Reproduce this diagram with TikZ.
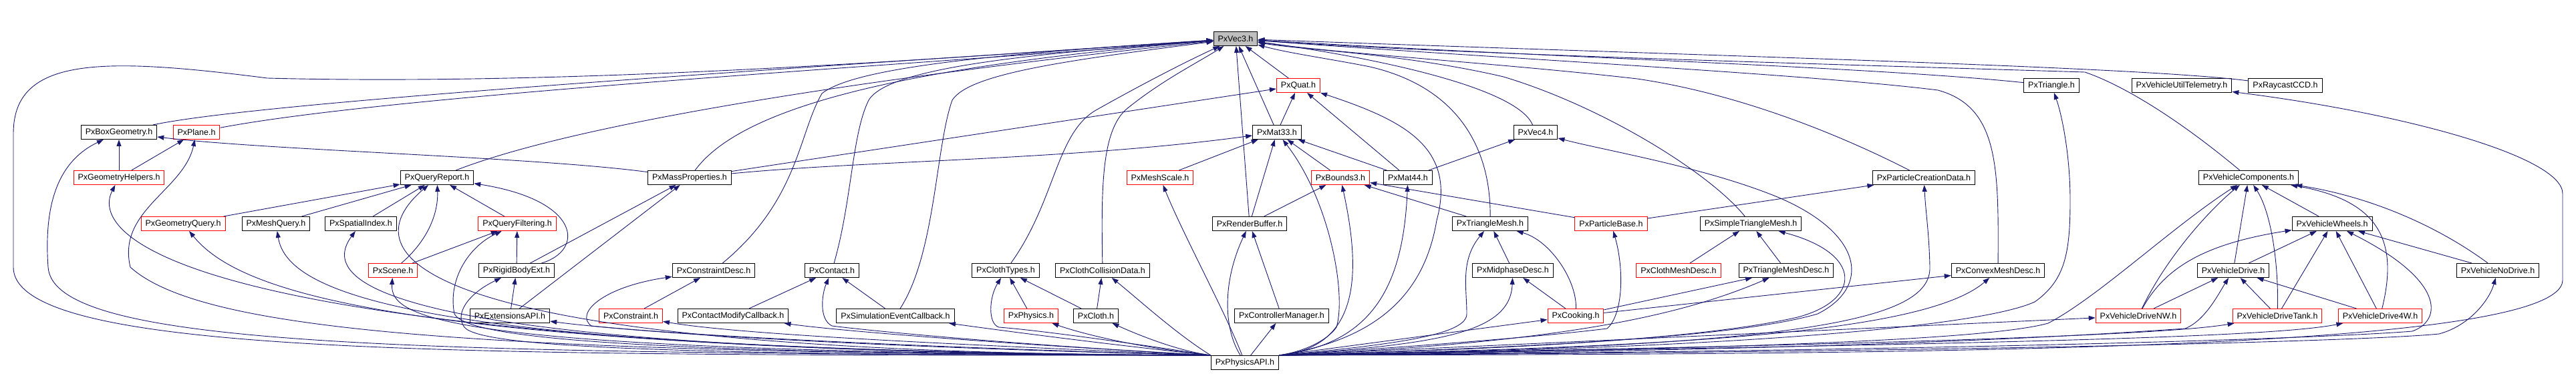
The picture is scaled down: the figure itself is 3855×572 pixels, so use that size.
\documentclass[tikz,border=0pt]{standalone}
\usepackage{fontspec}
\setmainfont{Liberation Sans}
\usetikzlibrary{arrows.meta}
\definecolor{edgeblue}{RGB}{25,25,112}
\definecolor{hdrred}{RGB}{255,0,0}
\definecolor{focusgray}{RGB}{191,191,191}
\tikzset{
  filebox/.style={rectangle,draw=black,line width=1pt,inner xsep=6.5pt,inner ysep=0pt,minimum height=21pt,font=\fontsize{12.5}{14}\selectfont},
  redbox/.style={filebox,draw=hdrred},
  focusbox/.style={filebox,fill=focusgray},
  inc/.style={-{Triangle[length=10pt,width=7pt]},color=edgeblue,line width=0.9pt}
}
\begin{document}
\begin{tikzpicture}[x=1pt,y=-1pt]
  \useasboundingbox (0,0) rectangle (3855,572);
  % headers, row by row
  \node[focusbox] (vec3) at (1849,58) {PxVec3.h};
  \node[redbox] (quat) at (1943,128) {PxQuat.h};
  \node[filebox] (triangle) at (3070,128) {PxTriangle.h};
  \node[filebox] (telemetry) at (3265,128) {PxVehicleUtilTelemetry.h};
  \node[filebox] (raycast) at (3420,128) {PxRaycastCCD.h};
  \node[filebox] (boxgeom) at (178,198) {PxBoxGeometry.h};
  \node[redbox] (plane) at (294,198) {PxPlane.h};
  \node[filebox] (mat33) at (1911,198) {PxMat33.h};
  \node[filebox] (vec4) at (2298,198) {PxVec4.h};
  \node[redbox] (geomhelp) at (178,266) {PxGeometryHelpers.h};
  \node[filebox] (queryrep) at (654,266) {PxQueryReport.h};
  \node[filebox] (massprop) at (1032,266) {PxMassProperties.h};
  \node[redbox] (meshscale) at (1736,266) {PxMeshScale.h};
  \node[redbox] (bounds3) at (2006,266) {PxBounds3.h};
  \node[filebox] (mat44) at (2107,266) {PxMat44.h};
  \node[filebox] (partcreate) at (2879,266) {PxParticleCreationData.h};
  \node[filebox] (vehcomp) at (3365,266) {PxVehicleComponents.h};
  \node[redbox] (geomquery) at (274,335) {PxGeometryQuery.h};
  \node[filebox] (meshquery) at (413,335) {PxMeshQuery.h};
  \node[filebox] (spatial) at (540,335) {PxSpatialIndex.h};
  \node[redbox] (queryfilt) at (774,335) {PxQueryFiltering.h};
  \node[filebox] (renderbuf) at (1870,335) {PxRenderBuffer.h};
  \node[filebox] (trimesh) at (2230,335) {PxTriangleMesh.h};
  \node[redbox] (partbase) at (2411,335) {PxParticleBase.h};
  \node[filebox] (simpletri) at (2620,335) {PxSimpleTriangleMesh.h};
  \node[filebox] (vehwheels) at (3490,335) {PxVehicleWheels.h};
  \node[redbox] (scene) at (588,405) {PxScene.h};
  \node[filebox] (rigidbody) at (773,405) {PxRigidBodyExt.h};
  \node[filebox] (constrdesc) at (1068,405) {PxConstraintDesc.h};
  \node[filebox] (contact) at (1245,405) {PxContact.h};
  \node[filebox] (clothtypes) at (1505,405) {PxClothTypes.h};
  \node[filebox] (clothcoll) at (1650,405) {PxClothCollisionData.h};
  \node[filebox] (midphase) at (2264,405) {PxMidphaseDesc.h};
  \node[redbox] (clothmesh) at (2512,405) {PxClothMeshDesc.h};
  \node[filebox] (trimeshdesc) at (2673,405) {PxTriangleMeshDesc.h};
  \node[filebox] (convexdesc) at (2990,405) {PxConvexMeshDesc.h};
  \node[filebox] (vehdrive) at (3342,405) {PxVehicleDrive.h};
  \node[filebox] (vehnodrive) at (3738,405) {PxVehicleNoDrive.h};
  \node[filebox] (extapi) at (763,473) {PxExtensionsAPI.h};
  \node[redbox] (constraint) at (944,473) {PxConstraint.h};
  \node[filebox] (contactmod) at (1097,473) {PxContactModifyCallback.h};
  \node[filebox] (simcb) at (1340,473) {PxSimulationEventCallback.h};
  \node[redbox] (physics) at (1543,473) {PxPhysics.h};
  \node[filebox] (cloth) at (1640,473) {PxCloth.h};
  \node[filebox] (ctrlmgr) at (1918,473) {PxControllerManager.h};
  \node[redbox] (cooking) at (2358,473) {PxCooking.h};
  \node[redbox] (drivenw) at (3200,473) {PxVehicleDriveNW.h};
  \node[redbox] (drivetank) at (3408,473) {PxVehicleDriveTank.h};
  \node[redbox] (drive4w) at (3562,473) {PxVehicleDrive4W.h};
  \node[filebox] (api) at (1863,543) {PxPhysicsAPI.h};

  % short includes
  \foreach \s/\t in {geomhelp/boxgeom,geomhelp/plane,geomquery/queryrep,meshquery/queryrep,
    spatial/queryrep,scene/queryfilt,queryfilt/queryrep,rigidbody/queryfilt,rigidbody/massprop,
    extapi/rigidbody,extapi/massprop,massprop/quat,constraint/constrdesc,contactmod/contact,
    simcb/contact,physics/clothtypes,cloth/clothtypes,cloth/clothcoll,meshscale/mat33,
    renderbuf/vec3,renderbuf/mat33,renderbuf/bounds3,ctrlmgr/renderbuf,mat33/vec3,mat33/quat,
    quat/vec3,bounds3/mat33,mat44/mat33,mat44/quat,mat44/vec4,trimesh/bounds3,partbase/bounds3,
    partbase/partcreate,midphase/trimesh,cooking/midphase,cooking/trimeshdesc,cooking/convexdesc,
    clothmesh/simpletri,trimeshdesc/simpletri,drivenw/vehdrive,vehdrive/vehcomp,vehdrive/vehwheels,
    drivetank/vehwheels,drivetank/vehdrive,drive4w/vehwheels,drive4w/vehdrive,vehwheels/vehcomp,
    vehnodrive/vehwheels,api/ctrlmgr}
    \draw[inc] (\s) -- (\t);
  \draw[inc] (massprop) .. controls (800,235) and (400,225) .. (boxgeom);
  \draw[inc] (massprop) .. controls (1300,240) and (1600,240) .. (mat33);
  \draw[inc] (rigidbody) .. controls (875,375) and (870,300) .. (queryrep);
  \draw[inc] (scene) .. controls (640,360) and (656,320) .. (queryrep);
  \draw[inc] (cooking) .. controls (2360,420) and (2320,360) .. (trimesh);
  \draw[inc] (drivenw) .. controls (3240,390) and (3300,320) .. (vehcomp);
  \draw[inc] (drivenw) .. controls (3240,400) and (3300,365) .. (vehwheels);
  \draw[inc] (drivetank) .. controls (3410,400) and (3400,320) .. (vehcomp);
  \draw[inc] (drive4w) .. controls (3590,360) and (3560,300) .. (vehcomp);
  \draw[inc] (vehnodrive) .. controls (3650,340) and (3550,295) .. (vehcomp);

  % long includes of PxVec3.h
  \foreach \s/\ax/\ay/\bx/\by in {boxgeom/400/150/1300/95,plane/600/140/1400/95,
    queryrep/900/170/1450/100,massprop/1110/160/1350/100,vec4/2270/130/2050/85,
    triangle/2800/100/2300/85,raycast/3200/100/2600/85}
    \draw[inc] (\s) .. controls (\ax,\ay) and (\bx,\by) .. (vec3);
  \draw[inc] (constrdesc) .. controls (1195,300) and (1195,200) .. (1230,140) .. controls (1280,100) and (1500,80) .. (vec3);
  \draw[inc] (contact) .. controls (1275,300) and (1275,200) .. (1300,150) .. controls (1330,100) and (1550,80) .. (vec3);
  \draw[inc] (simcb) .. controls (1400,380) and (1400,220) .. (1425,150) .. controls (1450,110) and (1600,90) .. (vec3);
  \draw[inc] (clothtypes) .. controls (1580,300) and (1580,200) .. (1640,165) .. controls (1720,120) and (1780,90) .. (vec3);
  \draw[inc] (clothcoll) .. controls (1648,280) and (1648,190) .. (1690,160) .. controls (1740,120) and (1790,95) .. (vec3);
  \draw[inc] (trimesh) .. controls (2231,220) and (2180,130) .. (2050,100) .. controls (1990,88) and (1930,80) .. (vec3);
  \draw[inc] (simpletri) .. controls (2560,260) and (2400,160) .. (2250,115) .. controls (2100,80) and (1950,75) .. (vec3);
  \draw[inc] (partcreate) .. controls (2750,200) and (2600,140) .. (2450,118) .. controls (2250,95) and (2000,80) .. (vec3);
  \draw[inc] (convexdesc) .. controls (2991,250) and (2991,160) .. (2900,135) .. controls (2700,110) and (2200,85) .. (vec3);
  \draw[inc] (vehcomp) .. controls (3250,170) and (3170,125) .. (3120,108) .. controls (2700,95) and (2150,80) .. (vec3);
  \draw[inc] (api.north west) .. controls (700,532) and (20,535) .. (20,400) -- (20,200)
    .. controls (20,85) and (150,85) .. (400,117) .. controls (900,130) and (1500,80) .. (vec3);

  % PxPhysicsAPI.h, left side
  \foreach \t/\ax/\ay/\bx/\by in {geomhelp/300/528/130/360,geomquery/600/525/360/440,
    meshquery/620/528/430/440,spatial/600/530/470/430,queryrep/600/530/520/380,
    scene/680/528/583/480,extapi/1300/518/950/498,constraint/1400/515/1100/500,
    contactmod/1500/515/1250/495,simcb/1650/515/1500/495,physics/1700/520/1620/500,
    cloth/1760/525/1700/500,clothcoll/1760/500/1700/445}
    \draw[inc] (api.north west) .. controls (\ax,\ay) and (\bx,\by) .. (\t);
  \draw[inc] (api.north west) .. controls (600,530) and (80,520) .. (72,400) .. controls (65,300) and (90,240) .. (boxgeom);
  \draw[inc] (api.north west) .. controls (700,530) and (300,495) .. (195,400) .. controls (175,315) and (275,285) .. (plane);
  \draw[inc] (api.north west) .. controls (1000,530) and (700,510) .. (680,470) .. controls (670,420) and (700,370) .. (queryfilt);
  \draw[inc] (api.north west) .. controls (1000,532) and (720,520) .. (695,490) .. controls (680,470) and (700,440) .. (rigidbody);
  \draw[inc] (api.north west) .. controls (1300,520) and (1000,500) .. (885,488) .. controls (860,470) and (900,430) .. (constrdesc);
  \draw[inc] (api.north west) .. controls (1500,515) and (1300,495) .. (1245,488) .. controls (1225,478) and (1230,440) .. (contact);
  \draw[inc] (api.north west) .. controls (1700,515) and (1560,495) .. (1495,490) .. controls (1478,485) and (1480,445) .. (clothtypes);
  \draw[inc] (api) .. controls (1835,470) and (1770,350) .. (meshscale);
  \draw[inc] (api) .. controls (1830,490) and (1830,420) .. (renderbuf);

  % PxPhysicsAPI.h, right side
  \foreach \t in {cooking,drivenw}
    \draw[inc] (api.north east) -- (\t);
  \foreach \t/\ax/\ay/\bx/\by in {bounds3/2040/520/2035/400,mat44/2060/515/2100/420,
    midphase/2150/515/2260/500,trimeshdesc/2300/515/2500/480,convexdesc/2500/520/2880/500,
    drivetank/2900/515/3250/500,drive4w/3000/515/3400/505}
    \draw[inc] (api.north east) .. controls (\ax,\ay) and (\bx,\by) .. (\t);
  \draw[inc] (api.north east) .. controls (1960,525) and (1990,505) .. (2000,490) .. controls (2015,440) and (1990,300) .. (mat33);
  \draw[inc] (api.north east) .. controls (2050,510) and (2130,450) .. (2150,330) .. controls (2180,220) and (2100,180) .. (quat);
  \draw[inc] (api.north east) .. controls (2100,515) and (2195,500) .. (2195,470) .. controls (2195,430) and (2185,390) .. (trimesh);
  \draw[inc] (api.north east) .. controls (2100,520) and (2300,505) .. (2405,492) .. controls (2430,470) and (2430,400) .. (partbase);
  \draw[inc] (api.north east) .. controls (2300,520) and (2600,505) .. (2720,470) .. controls (2800,430) and (2790,350) .. (2660,295) .. controls (2550,250) and (2400,225) .. (vec4);
  \draw[inc] (api.north east) .. controls (2300,522) and (2560,505) .. (2690,475) .. controls (2785,450) and (2790,380) .. (simpletri);
  \draw[inc] (api.north east) .. controls (2700,520) and (2890,480) .. (2888,400) .. controls (2887,350) and (2882,320) .. (partcreate);
  \draw[inc] (api.north east) .. controls (2500,525) and (2950,495) .. (3045,452) .. controls (3090,420) and (3098,380) .. (3098,300) .. controls (3098,230) and (3085,170) .. (triangle);
  \draw[inc] (api.north east) .. controls (2700,522) and (2990,505) .. (3065,484) .. controls (3140,445) and (3250,340) .. (vehcomp);
  \draw[inc] (api.north east) .. controls (2800,525) and (3150,500) .. (3270,492) .. controls (3300,480) and (3320,440) .. (vehdrive);
  \draw[inc] (api.north east) .. controls (3000,525) and (3500,505) .. (3610,496) .. controls (3655,480) and (3660,420) .. (vehwheels);
  \draw[inc] (api.north east) .. controls (3000,527) and (3550,510) .. (3650,500) .. controls (3695,488) and (3725,450) .. (vehnodrive);
  \draw[inc] (api.north east) .. controls (2800,530) and (3830,530) .. (3835,420) -- (3835,290)
    .. controls (3835,235) and (3600,170) .. (telemetry);
\end{tikzpicture}
\end{document}
